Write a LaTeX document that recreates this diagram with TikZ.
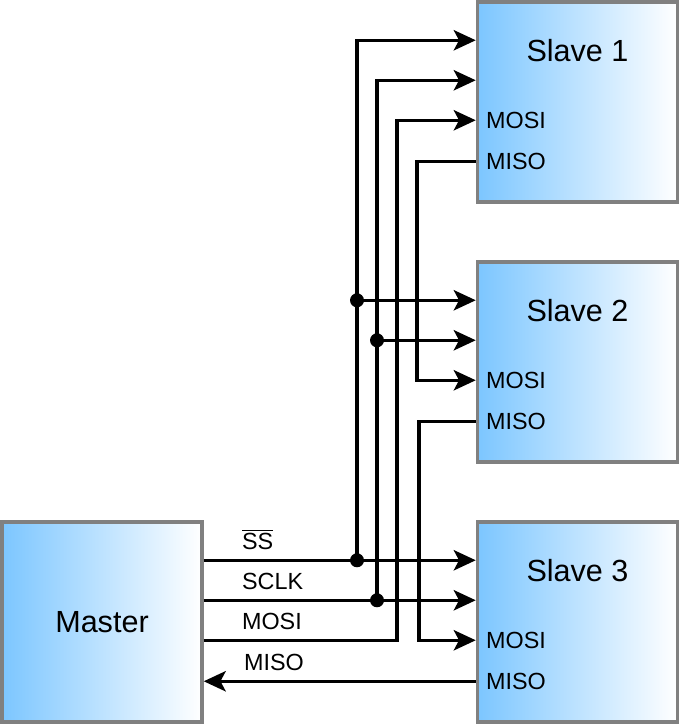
\documentclass[tikz,border=0pt]{standalone}
\usepackage{fontspec}
\setmainfont{Liberation Sans}
\usetikzlibrary{arrows.meta, positioning, calc}
\definecolor{bdr}{HTML}{808080}
\definecolor{devBlue}{HTML}{7CC6FF}
\tikzset{
  % device boxes (master and the three slaves)
  dev/.style={draw=bdr, line width=2pt, minimum width=4cm, minimum height=4cm,
    left color=devBlue, right color=white, inner sep=0pt},
  dname/.style={font=\fontsize{17.4}{20}\selectfont, inner sep=0pt},
  port/.style={font=\fontsize{13.3}{15}\selectfont, inner sep=0pt},
  wire/.style={line width=2pt},
  A/.style={wire, -{Stealth[length=12.5pt,width=11.5pt,inset=3pt]}},
  jdot/.style={circle, fill=black, inner sep=0pt, minimum size=0.28cm},
}

\begin{document}
\begin{tikzpicture}[x=0.02cm, y=-0.02cm]
\useasboundingbox (0,0) rectangle (680,724);

% =====================================================================
% DEVICES
% =====================================================================
\node[dev] (master) at (102,622) {};
\node[dname] (masterT) at (master.center) {Master};

\node[dev] (s1) at (577.5,102) {};
\node[dev] (s2) at (577.5,362) {};
\node[dev] (s3) at (577.5,622) {};

\foreach \s/\n in {s1/1, s2/2, s3/3} {
  \node[dname] (\s T) at ($(\s.north)+(0,50)$) {Slave \n};
  % pins on the left side of each slave
  \coordinate (\s ss)   at ($(\s.north west)+(0,40)$);
  \coordinate (\s clk)  at ($(\s.north west)+(0,80)$);
  \coordinate (\s mosi) at ($(\s.north west)+(0,120)$);
  \coordinate (\s miso) at ($(\s.north west)+(0,161)$);
  \node[port, anchor=west] (\s mosiL) at ($(\s mosi)+(10,0)$) {MOSI};
  \node[port, anchor=west] (\s misoL) at ($(\s miso)+(10,0)$) {MISO};
}

% master pins
\coordinate (mss)   at ($(master.north east)+(0,40)$);
\coordinate (mclk)  at ($(master.north east)+(0,80)$);
\coordinate (mmosi) at ($(master.north east)+(0,120)$);
\coordinate (mmiso) at ($(master.north east)+(0,161)$);

\node[port, anchor=base west] (lss)   at ($(mss)+(38,-11)$)   {$\overline{\mbox{SS}}$};
\node[port, anchor=base west] (lclk)  at ($(mclk)+(38,-11)$)  {SCLK};
\node[port, anchor=base west] (lmosi) at ($(mmosi)+(38,-11)$) {MOSI};
\node[port, anchor=base west] (lmiso) at ($(mmiso)+(40,-11)$) {MISO};

% bus columns
\coordinate (xss)  at (357,0);
\coordinate (xclk) at (377,0);
\coordinate (xmo)  at (397,0);
\coordinate (xd1)  at (417,0);
\coordinate (xd2)  at (419,0);

% =====================================================================
% SS and SCLK (shared)
% =====================================================================
\draw[A] (mss) -- (s3ss);
\draw[A] (mss -| xss) -- (s1ss -| xss) -- (s1ss);
\draw[A] (s2ss -| xss) -- (s2ss);
\node[jdot] (jss2) at (s2ss -| xss) {};
\node[jdot] (jssm) at (mss -| xss) {};

\draw[A] (mclk) -- (s3clk);
\draw[A] (mclk -| xclk) -- (s1clk -| xclk) -- (s1clk);
\draw[A] (s2clk -| xclk) -- (s2clk);
\node[jdot] (jclk2) at (s2clk -| xclk) {};
\node[jdot] (jclkm) at (mclk -| xclk) {};

% =====================================================================
% MOSI -> MISO daisy chain
% =====================================================================
\draw[A] (mmosi) -- (mmosi -| xmo) -- (s1mosi -| xmo) -- (s1mosi);
\draw[A] (s1miso) -- (s1miso -| xd1) -- (s2mosi -| xd1) -- (s2mosi);
\draw[A] (s2miso) -- (s2miso -| xd2) -- (s3mosi -| xd2) -- (s3mosi);
\draw[A] (s3miso) -- (mmiso);

\end{tikzpicture}
\end{document}
